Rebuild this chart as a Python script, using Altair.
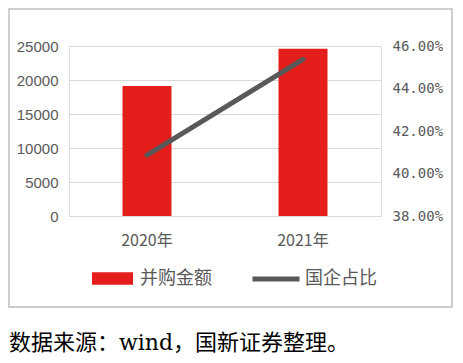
import altair as alt
import pandas as pd

years = ["2020年", "2021年"]
amounts = [19100, 24600]
soe_share = [0.4087, 0.4537]
bar_name = "并购金额"
line_name = "国企占比"
source_note = "数据来源：wind，国新证券整理。"

df = pd.DataFrame({
    "year": years,
    "amount": amounts,
    "share": soe_share,
    "s1": [bar_name] * len(years),
    "s2": [line_name] * len(years),
})

RED = "#E41E1A"
GRAY = "#595959"

base = alt.Chart(df)

x_enc = alt.X("year:N", sort=years, title=None,
              scale=alt.Scale(paddingInner=0, paddingOuter=0),
              axis=alt.Axis(labelAngle=0, labelFont="Noto Sans CJK SC", labelFontSize=16,
                            labelColor=GRAY, labelPadding=16, ticks=False, domain=False, grid=False))

bars = base.mark_bar(size=49).encode(
    x=x_enc,
    y=alt.Y("amount:Q", title=None,
            scale=alt.Scale(domain=[0, 25000], nice=False),
            axis=alt.Axis(orient="left", values=[0, 5000, 10000, 15000, 20000, 25000], format="d",
                          labelFont="Liberation Sans", labelFontSize=15, labelColor=GRAY,
                          labelPadding=11, ticks=False, domain=False,
                          grid=True, gridColor="#d9d9d9", gridWidth=1)),
    color=alt.Color("s1:N", scale=alt.Scale(domain=[bar_name], range=[RED]),
                    legend=alt.Legend(orient="none", legendX=23, legendY=212, title=None,
                                      symbolType="M-1,-0.3H1V0.3H-1Z", symbolSize=1681,
                                      symbolStrokeWidth=0, symbolOpacity=1,
                                      labelFont="Noto Sans CJK SC", labelFontSize=18,
                                      labelColor=GRAY, labelOffset=7, padding=0)),
)

line = base.mark_line(strokeWidth=5, strokeCap="round").encode(
    x=alt.X("year:N", sort=years),
    y=alt.Y("share:Q", title=None,
            scale=alt.Scale(domain=[0.38, 0.46], nice=False),
            axis=alt.Axis(orient="right", values=[0.38, 0.40, 0.42, 0.44, 0.46], format=".2%",
                          labelFont="DejaVu Sans Mono", labelFontSize=14, labelColor=GRAY,
                          labelPadding=11, ticks=False, domain=False, grid=False)),
    stroke=alt.Stroke("s2:N", scale=alt.Scale(domain=[line_name], range=[GRAY]),
                      legend=alt.Legend(orient="none", legendX=181, legendY=207, title=None,
                                        symbolType="stroke", symbolSize=2209,
                                        symbolStrokeWidth=5,
                                        labelFont="Noto Sans CJK SC", labelFontSize=18,
                                        labelColor=GRAY, labelOffset=3, padding=0)),
)

frame = alt.Chart(alt.Data(values=[{"k": 1}])).mark_rect(
    fill="white", fillOpacity=0, stroke="#bfbfbf", strokeWidth=1.5).encode(
    x=alt.value(-60), x2=alt.value(383), y=alt.value(-37), y2=alt.value(261))

note = alt.Chart(alt.Data(values=[{"t": source_note}])).mark_text(
    align="left", baseline="middle", font="DejaVu Serif, Noto Sans CJK SC",
    fontSize=22, color="#000000").encode(
    text="t:N", x=alt.value(-60), y=alt.value(297))

chart = alt.layer(frame, bars, line, note).resolve_scale(
    y="independent", color="independent", stroke="independent"
).properties(
    width=312, height=170,
    autosize=alt.AutoSizeParams(type="none"),
    padding={"left": 61, "top": 38, "right": 74, "bottom": 139},
).configure_view(stroke=None).configure(background="white")

chart.save("out.html", embed_options={"renderer": "svg", "actions": False})
